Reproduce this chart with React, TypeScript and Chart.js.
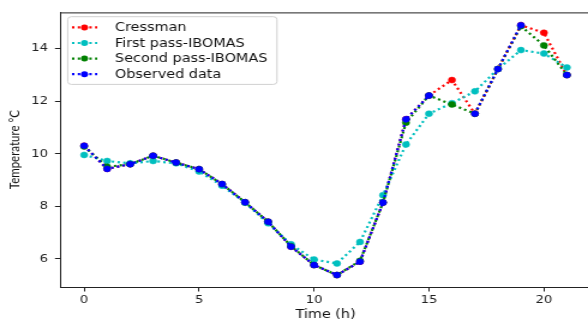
import React, { useEffect, useRef } from "react";
import { Chart, registerables } from "chart.js";

Chart.register(...registerables);

// ---- data ----
const hours = [0, 1, 2, 3, 4, 5, 6, 7, 8, 9, 10, 11, 12, 13, 14, 15, 16, 17, 18, 19, 20, 21];
const cressman = [10.3, 9.42, 9.6, 9.92, 9.66, 9.41, 8.84, 8.15, 7.41, 6.46, 5.76, 5.38, 5.89, 8.14, 11.31, 12.21, 12.8, 11.52, 13.22, 14.89, 14.6, 12.99];
const firstPass = [9.95, 9.72, 9.63, 9.72, 9.63, 9.32, 8.78, 8.13, 7.35, 6.55, 5.97, 5.82, 6.64, 8.42, 10.35, 11.52, 11.92, 12.37, 13.22, 13.94, 13.81, 13.28];
const secondPass = [10.27, 9.5, 9.6, 9.92, 9.66, 9.41, 8.84, 8.15, 7.41, 6.48, 5.76, 5.38, 5.92, 8.14, 11.18, 12.21, 11.87, 11.52, 13.22, 14.85, 14.12, 12.99];
const observed = [10.3, 9.42, 9.6, 9.92, 9.66, 9.41, 8.84, 8.15, 7.41, 6.46, 5.76, 5.38, 5.89, 8.14, 11.31, 12.21, null, 11.52, 13.22, 14.89, null, 12.99];
const seriesNames = ["Cressman", "First pass-IBOMAS", "Second pass-IBOMAS", "Observed data"];
const seriesColors = ["#ff0000", "#00bfbf", "#008000", "#0000ff"];
const xTicks = [0, 5, 10, 15, 20];
const yTicks = [6, 8, 10, 12, 14];
const xLabel = "Time (h)";
const yLabel = "Temperature °C";

const SX = 1.2; // horizontal stretch of the reference picture
const CW = 500;
const CH = 322;

const frameAndLegend = {
  id: "frameAndLegend",
  afterDraw(chart: any) {
    const { ctx, chartArea: a } = chart;
    ctx.save();
    ctx.strokeStyle = "#222";
    ctx.lineWidth = 1;
    ctx.beginPath();
    ctx.moveTo(a.left, a.top + 0.5);
    ctx.lineTo(a.right - 0.5, a.top + 0.5);
    ctx.lineTo(a.right - 0.5, a.bottom);
    ctx.stroke();

    const lx = a.left + 6.4;
    const ly = a.top + 4.3;
    ctx.fillStyle = "rgba(255,255,255,0.8)";
    ctx.strokeStyle = "#d0d0d0";
    ctx.beginPath();
    ctx.roundRect(lx, ly, 174.4, 67.7, 3);
    ctx.fill();
    ctx.stroke();

    chart.data.datasets.forEach((ds: any, i: number) => {
      const y = a.top + 15 + i * 15.6;
      ctx.setLineDash([2, 2.8]);
      ctx.strokeStyle = ds.borderColor;
      ctx.lineWidth = 2.2;
      ctx.beginPath();
      ctx.moveTo(a.left + 10, y);
      ctx.lineTo(a.left + 31, y);
      ctx.stroke();
      ctx.setLineDash([]);
      ctx.fillStyle = ds.borderColor;
      ctx.beginPath();
      ctx.arc(a.left + 20.4, y, 3, 0, Math.PI * 2);
      ctx.fill();
      ctx.fillStyle = "#111";
      ctx.font = '12px "DejaVu Sans"';
      ctx.textBaseline = "middle";
      ctx.textAlign = "left";
      ctx.fillText(ds.label, a.left + 45.8, y + 0.5);
    });
    ctx.restore();
  },
};

export default function App() {
  const ref = useRef<HTMLCanvasElement | null>(null);

  useEffect(() => {
    document.body.style.margin = "0";
    document.documentElement.style.overflow = "hidden";
    const allSeries = [cressman, firstPass, secondPass, observed];
    const datasets = allSeries.map((vals, i) => ({
      label: seriesNames[i],
      data: hours.map((h, j) => ({ x: h, y: vals[j] })),
      borderColor: seriesColors[i],
      backgroundColor: seriesColors[i],
      pointBackgroundColor: seriesColors[i],
      pointBorderColor: seriesColors[i],
      pointBorderWidth: 0.5,
      pointRadius: 3,
      borderWidth: 2.2,
      borderDash: [2, 2.8],
      spanGaps: false,
      tension: 0,
      order: 4 - i,
    }));
    const tickFont = { family: "DejaVu Sans", size: 11 };
    const chart = new Chart(ref.current!, {
      type: "line",
      data: { datasets },
      plugins: [frameAndLegend],
      options: {
        animation: false,
        responsive: false,
        devicePixelRatio: 1,
        layout: { padding: { top: 9, right: 7.5, left: 0, bottom: 0 } },
        plugins: { legend: { display: false }, tooltip: { enabled: false } },
        scales: {
          x: {
            type: "linear",
            min: -1.05,
            max: 22.05,
            afterBuildTicks: (s: any) => {
              s.ticks = xTicks.map((v) => ({ value: v }));
            },
            afterFit: (s: any) => {
              s.height = 35;
            },
            ticks: { font: tickFont, color: "#222", padding: 2, maxRotation: 0 },
            grid: { drawOnChartArea: false, drawTicks: true, tickLength: 4.5, color: "#222" },
            border: { display: true, color: "#222", width: 1 },
            title: {
              display: true,
              text: xLabel,
              font: { family: "DejaVu Sans", size: 12 },
              color: "#111",
              padding: { top: 0, bottom: 0 },
            },
          },
          y: {
            type: "linear",
            min: 4.925,
            max: 15.375,
            afterBuildTicks: (s: any) => {
              s.ticks = yTicks.map((v) => ({ value: v }));
            },
            afterFit: (s: any) => {
              s.width = 50;
            },
            ticks: { font: tickFont, color: "#222", padding: 5.8 },
            grid: { drawOnChartArea: false, drawTicks: true, tickLength: 4.2, color: "#222" },
            border: { display: true, color: "#222", width: 1 },
            title: {
              display: true,
              text: yLabel,
              font: { family: "Lato", size: 11.5 },
              color: "#111",
              padding: { top: 5, bottom: 5 },
            },
          },
        },
      },
    });
    return () => chart.destroy();
  }, []);

  return (
    <div style={{ width: 588, height: CH, overflow: "hidden", position: "relative" }}>
      <canvas
        ref={ref}
        width={CW}
        height={CH}
        style={{
          position: "absolute",
          left: 0,
          top: 0,
          width: CW,
          height: CH,
          transform: `scaleX(${SX})`,
          transformOrigin: "0 0",
        }}
      />
    </div>
  );
}
